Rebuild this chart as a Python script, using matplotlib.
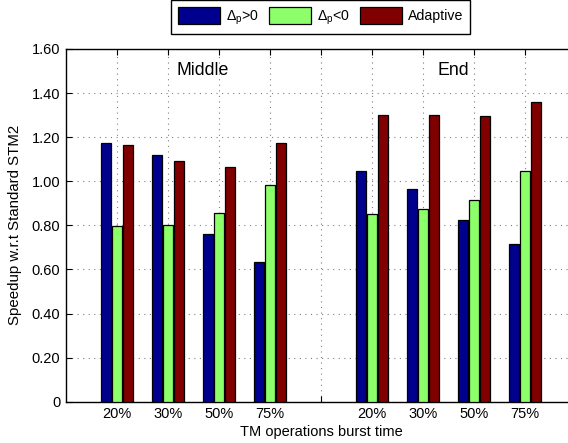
import matplotlib
matplotlib.use("Agg")
import matplotlib.pyplot as plt
from matplotlib.patches import Patch
from matplotlib.ticker import FixedLocator, FixedFormatter

plt.rcParams['font.family'] = ['Liberation Sans', 'DejaVu Sans']
plt.rcParams['mathtext.fontset'] = 'custom'
plt.rcParams['mathtext.rm'] = 'Liberation Sans'
plt.rcParams['mathtext.it'] = 'Liberation Sans:italic'

# Data
burst_labels = ['20%', '30%', '50%', '75%']
group_names = ['Middle', 'End']
series_names = [r'$\Delta_{\mathrm{p}}$>0', r'$\Delta_{\mathrm{p}}$<0', 'Adaptive']
middle_pos = [1.172, 1.121, 0.762, 0.634]
middle_neg = [0.797, 0.802, 0.855, 0.982]
middle_adaptive = [1.165, 1.092, 1.063, 1.175]
end_pos = [1.048, 0.965, 0.824, 0.716]
end_neg = [0.850, 0.874, 0.915, 1.046]
end_adaptive = [1.301, 1.302, 1.295, 1.360]
y_ticks = [0, 0.2, 0.4, 0.6, 0.8, 1.0, 1.2, 1.4, 1.6]

colors = ['#00008f', '#8cff6a', '#800000']

W, H = 568, 443
fig = plt.figure(figsize=(W / 100, H / 100), dpi=100)
ax = fig.add_axes([66 / W, 41.3 / H, 510 / W, 352.7 / H])

# Category positions: two blocks of four with a blank slot between them
x_mid = [1, 2, 3, 4]
x_end = [6, 7, 8, 9]
xs = x_mid + x_end
series = [middle_pos + end_pos, middle_neg + end_neg, middle_adaptive + end_adaptive]
offsets = [-0.222, 0.0, 0.222]
bw = 0.196
for vals, off, c in zip(series, offsets, colors):
    ax.bar([x + off for x in xs], vals, width=bw, color=c,
           edgecolor='black', linewidth=0.9, zorder=3)

ax.set_xlim(0, 10)
ax.set_ylim(0, 1.6)

tick_pos = list(range(1, 10))
tick_lbl = burst_labels + [''] + burst_labels
ax.xaxis.set_major_locator(FixedLocator(tick_pos))
ax.xaxis.set_major_formatter(FixedFormatter(tick_lbl))
ax.set_yticks(y_ticks)
ax.set_yticklabels(['0' if v == 0 else f'{v:.2f}' for v in y_ticks])

ax.tick_params(direction='in', length=4, width=0.8, labelsize=10.5,
               top=True, right=True, pad=4)
ax.grid(True, linestyle=(0, (1, 4)), color='#808080', linewidth=0.8, zorder=0)
for s in ax.spines.values():
    s.set_linewidth(1.0)

ax.text(2.17, 1.503, group_names[0], fontsize=12.8, va='center', ha='left')
ax.text(7.28, 1.503, group_names[1], fontsize=12.8, va='center', ha='left')

ax.set_xlabel('TM operations burst time', fontsize=10.5, labelpad=3)
ax.set_ylabel('Speedup w.r.t Standard STM2', fontsize=10.8, labelpad=7)

handles = [Patch(facecolor=c, edgecolor='black', linewidth=0.9) for c in colors]
fig.legend(handles, series_names, loc='center', bbox_to_anchor=(320.5 / W, 1 - 17 / H),
           ncol=3, fontsize=10.2, frameon=True, fancybox=False, edgecolor='black',
           framealpha=1, handlelength=3.0, handleheight=1.45, handletextpad=0.4,
           columnspacing=0.7, borderpad=0.5, borderaxespad=0)

fig.savefig('out.png', dpi=100)
